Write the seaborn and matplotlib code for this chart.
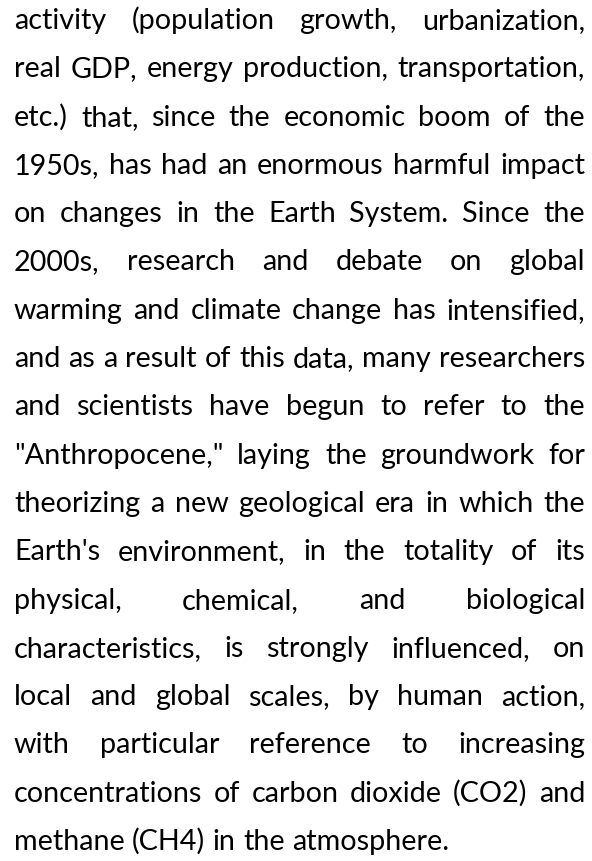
import matplotlib
matplotlib.use("Agg")
import matplotlib.pyplot as plt
import seaborn as sns

lines = [
    "activity (population growth, urbanization,",
    "real GDP, energy production, transportation,",
    "etc.) that, since the economic boom of the",
    "1950s, has had an enormous harmful impact",
    "on changes in the Earth System. Since the",
    "2000s, research and debate on global",
    "warming and climate change has intensified,",
    "and as a result of this data, many researchers",
    "and scientists have begun to refer to the",
    "\"Anthropocene,\" laying the groundwork for",
    "theorizing a new geological era in which the",
    "Earth's environment, in the totality of its",
    "physical, chemical, and biological",
    "characteristics, is strongly influenced, on",
    "local and global scales, by human action,",
    "with particular reference to increasing",
    "concentrations of carbon dioxide (CO2) and",
    "methane (CH4) in the atmosphere.",
]

sns.set_theme(style="white")
plt.rcParams["font.family"] = ["Lato", "DejaVu Sans"]

W, H = 592, 862
fig = plt.figure(figsize=(W / 100, H / 100), dpi=100)
ax = fig.add_axes([0, 0, 1, 1])
ax.set_xlim(0, W)
ax.set_ylim(H, 0)
ax.axis("off")

left, right = 14, 585
top, step = 29, 48.3

fig.canvas.draw()
renderer = fig.canvas.get_renderer()

def width(s, fs):
    t = ax.text(0, 0, s, fontsize=fs)
    w = t.get_window_extent(renderer).width
    t.remove()
    return w

# fit the tightest line to the column width
base = 20
widest = max(width(l, base) for l in lines)
fs = base * (right - left) / widest * 0.995
space_w = width("a b", fs) - width("ab", fs)

for i, line in enumerate(lines):
    y = top + i * step
    words = line.split(" ")
    widths = [width(w, fs) for w in words]
    last = i == len(lines) - 1
    if last or len(words) == 1:
        gap = space_w
    else:
        gap = (right - left - sum(widths)) / (len(words) - 1)
    x = left
    for w, wd in zip(words, widths):
        ax.text(x, y, w, fontsize=fs, va="baseline", ha="left", color="#000000")
        x += wd + gap

fig.savefig("out.png", dpi=100, facecolor="white")
